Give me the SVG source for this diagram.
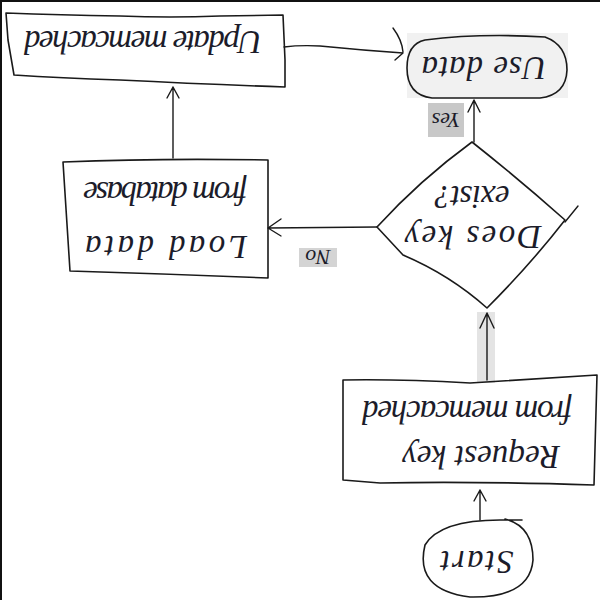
<svg xmlns="http://www.w3.org/2000/svg" width="600" height="600" viewBox="0 0 600 600">
<defs>
<style>
.shape{fill:none;stroke:#1a1a1a;stroke-width:1.6;stroke-linejoin:round;stroke-linecap:round}
.conn{fill:none;stroke:#1a1a1a;stroke-width:1.4;stroke-linecap:round;stroke-linejoin:round}
.lbl{font-family:"Liberation Serif",serif;font-style:italic;fill:#1c1c2a;text-anchor:middle;dominant-baseline:central}
.big{font-size:33px}
.small{font-size:22px}
</style>
</defs>
<rect width="600" height="600" fill="#ffffff"/>
<path d="M0,1 L600,1 M1,0 L1,600" stroke="#111" stroke-width="2" fill="none"/>

<g id="backgrounds">
<rect x="407" y="33" width="161" height="65" fill="#f1f1f1"/>
<rect x="477" y="312" width="18" height="71" fill="#e4e4e4"/>
</g>

<g id="connectors">
<path class="conn" d="M480,520 L480,490 M474,501 L480,490 L486,501"/>
<path class="conn" d="M487,380 L487,313 M480,328 L487,313 L494,328"/>
<path class="conn" d="M474,142 L474,100 M468,112 L474,100 L480,112"/>
<path class="conn" d="M377,227 L268,228 M281,219 L268,228 L281,236"/>
<path class="conn" d="M173,158 L173,87 M167,98 L173,87 L179,98"/>
<path class="conn" d="M284,47 Q300,45 320,46 Q360,50 403,53 M395,60 L403,53 M393,28 Q402,40 403,52"/>
<g id="label-yes">
<rect x="428" y="103" width="36" height="34" fill="#c8c8c8"/>
<text class="lbl small" x="446" y="120" transform="rotate(180 446 120)">Yes</text>
</g>
<g id="label-no">
<rect x="299" y="248" width="38" height="19" fill="#d4d4d4"/>
<text class="lbl small" x="318" y="257" transform="rotate(180 318 257)">No</text>
</g>
</g>

<g id="node-update">
<path class="shape" d="M6,13 Q60,15 120,16 Q170,18 220,16 L283,15 L285,60 L285,87 Q200,84 120,80 Q60,78 14,75 L8,40 Z"/>
<text class="lbl big" x="143" y="42" textLength="238" lengthAdjust="spacing" transform="rotate(180 143 42)">Update memcached</text>
</g>

<g id="node-usedata">
<path class="shape" d="M425,40 Q480,33 545,37 Q567,45 567,70 Q566,95 540,98 L432,98 Q407,95 407,68 Q407,44 425,40 Z"/>
<text class="lbl big" x="484" y="68" textLength="125" lengthAdjust="spacing" transform="rotate(180 484 68)">Use data</text>
</g>

<g id="node-decision">
<path class="shape" d="M472,142 Q520,180 565,220 Q530,265 487,308 Q450,275 403,255 L377,227 Q420,180 472,142 Z"/>
<path class="conn" d="M565,222 L578,206"/>
<text class="lbl big" x="473" y="237" textLength="137" lengthAdjust="spacing" transform="rotate(180 473 237)">Does key</text>
<text class="lbl big" x="472" y="197" textLength="75" lengthAdjust="spacing" transform="rotate(180 472 197)">exist?</text>
</g>

<g id="node-load">
<path class="shape" d="M63,162 Q160,158 268,160 L268,278 Q170,274 70,271 Z"/>
<text class="lbl big" x="166" y="247" textLength="162" lengthAdjust="spacing" transform="rotate(180 166 247)">Load data</text>
<text class="lbl big" x="165" y="193" textLength="164" lengthAdjust="spacing" transform="rotate(180 165 193)">from database</text>
</g>

<g id="node-request">
<path class="shape" d="M343,380 Q400,379 470,383 L597,375 L594,485 Q470,481 380,483 L343,480 Z"/>
<text class="lbl big" x="481" y="457" textLength="158" lengthAdjust="spacing" transform="rotate(180 481 457)">Request key</text>
<text class="lbl big" x="467" y="412" textLength="210" lengthAdjust="spacing" transform="rotate(180 467 412)">from memcached</text>
</g>

<g id="node-start">
<path class="shape" d="M500,520 Q440,520 425,545 Q414,590 470,597 Q530,598 533,560 Q533,526 505,519 M500,520 L522,520"/>
<text class="lbl big" x="477" y="562" textLength="73" lengthAdjust="spacing" transform="rotate(180 477 562)">Start</text>
</g>
</svg>
